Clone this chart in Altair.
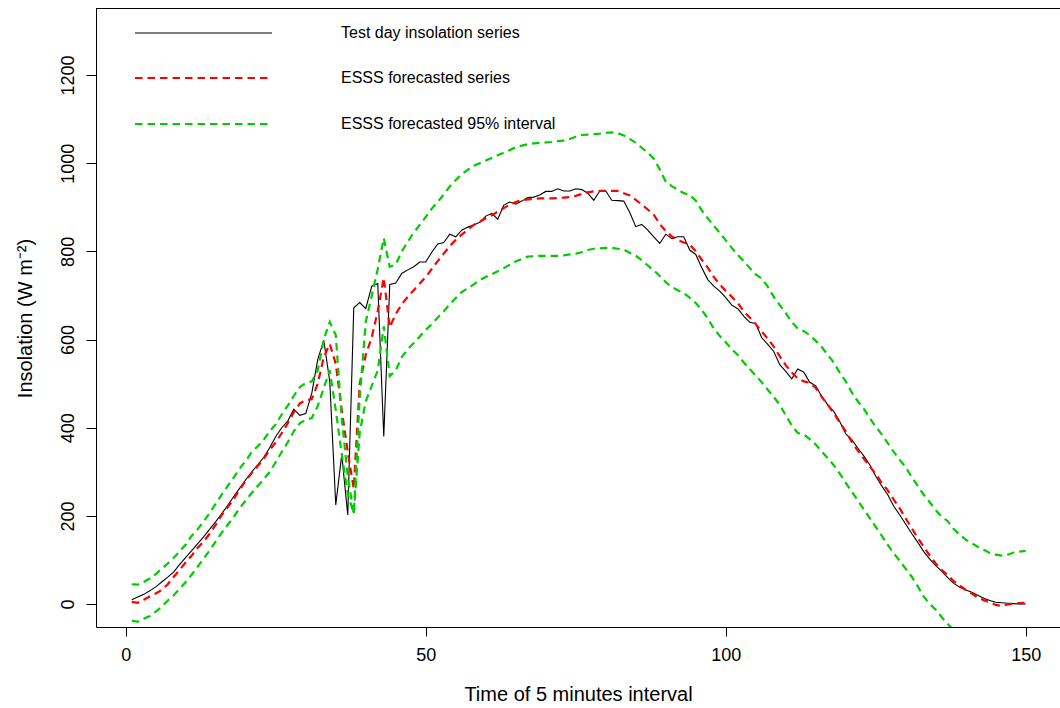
import altair as alt
import pandas as pd

# Time index (5-minute intervals through the test day)
t = list(range(1, 151))

# Observed insolation on the test day (W m^-2)
observed = [
    10, 16, 22, 30, 39, 50, 61, 73, 90, 106,
    121, 137, 153, 170, 187, 205, 224, 244, 263, 282,
    300, 316, 333, 355, 380, 400, 415, 442, 428, 432,
    478, 555, 598, 505, 225, 339, 202, 672, 684, 670,
    721, 727, 380, 725, 728, 750, 758, 765, 776, 776,
    798, 817, 820, 839, 833, 848, 855, 860, 866, 880,
    886, 873, 905, 912, 907, 914, 922, 923, 928, 936,
    936, 942, 937, 937, 942, 940, 932, 916, 937, 937,
    916, 915, 914, 888, 856, 861, 848, 833, 818, 839,
    829, 833, 833, 803, 793, 763, 736, 721, 710, 695,
    678, 670, 653, 639, 636, 604, 589, 573, 543, 528,
    511, 533, 526, 503, 495, 471, 452, 437, 414, 386,
    373, 354, 336, 316, 290, 268, 248, 222, 202, 181,
    160, 140, 119, 102, 87, 74, 60, 47, 38, 32,
    27, 20, 13, 8, 4, 3, 2, 1, 0, 0,
]

# ESSS point forecast
forecast = [
    5, 3, 10, 17, 24, 32, 45, 62, 78, 95,
    110, 128, 142, 160, 180, 202, 220, 238, 260, 280,
    297, 313, 330, 350, 367, 388, 410, 435, 455, 462,
    465, 500, 560, 590, 545, 440, 345, 262, 500, 565,
    605, 665, 740, 628, 658, 680, 697, 712, 727, 742,
    760, 778, 795, 812, 826, 838, 849, 860, 867, 875,
    882, 890, 898, 906, 912, 916, 918, 919, 920, 920,
    920, 921, 922, 923, 926, 930, 934, 936, 937, 937,
    937, 937, 932, 927, 917, 906, 895, 883, 862, 846,
    834, 826, 820, 815, 800, 781, 763, 742, 725, 710,
    697, 683, 664, 650, 635, 618, 602, 584, 562, 542,
    525, 512, 505, 502, 490, 470, 452, 433, 412, 392,
    368, 348, 330, 312, 295, 275, 258, 237, 217, 194,
    172, 150, 130, 110, 92, 77, 66, 52, 42, 32,
    24, 15, 9, 4, -2, -4, -1, 1, 2, 3,
]

# Upper bound of the ESSS 95% forecast interval
upper95 = [
    45, 44, 50, 58, 68, 80, 92, 105, 120, 135,
    155, 170, 188, 207, 228, 248, 268, 287, 308, 325,
    345, 358, 373, 392, 408, 430, 450, 472, 492, 502,
    505, 530, 600, 640, 610, 420, 290, 205, 470, 640,
    700, 760, 830, 765, 770, 800, 822, 843, 860, 878,
    897, 912, 929, 947, 962, 975, 985, 994, 1000, 1006,
    1012, 1018, 1024, 1030, 1036, 1040, 1043, 1045, 1046, 1047,
    1048, 1050, 1051, 1055, 1060, 1064, 1065, 1066, 1067, 1069,
    1070, 1068, 1063, 1055, 1046, 1035, 1024, 1010, 986, 958,
    948, 940, 932, 928, 915, 893, 875, 858, 842, 825,
    808, 792, 778, 762, 748, 738, 720, 697, 678, 660,
    640, 625, 619, 610, 597, 583, 565, 548, 525, 505,
    480, 460, 443, 422, 402, 385, 365, 345, 327, 310,
    288, 268, 248, 231, 213, 198, 188, 170, 157, 146,
    138, 130, 123, 116, 112, 110, 112, 117, 119, 121,
]

# Lower bound of the ESSS 95% forecast interval (runs below the plotted range at the end)
lower95 = [
    -38, -40, -33, -27, -17, -6, 8, 20, 35, 50,
    67, 85, 104, 122, 142, 162, 180, 198, 218, 235,
    252, 268, 283, 300, 322, 345, 367, 392, 410, 418,
    422, 449, 490, 530, 440, 340, 250, 205, 390, 460,
    495, 530, 630, 517, 530, 560, 578, 592, 607, 622,
    635, 650, 664, 680, 694, 708, 716, 725, 735, 742,
    748, 755, 762, 770, 777, 783, 788, 789, 790, 790,
    790, 790, 791, 793, 795, 798, 803, 806, 807, 808,
    808, 806, 804, 797, 790, 780, 768, 757, 744, 730,
    719, 712, 705, 695, 683, 667, 648, 625, 608, 594,
    578, 565, 548, 533, 518, 503, 486, 470, 452, 428,
    405, 388, 385, 374, 362, 346, 331, 315, 296, 275,
    255, 235, 215, 195, 175, 155, 134, 115, 98, 80,
    62, 40, 17, 0, -13, -30, -45, -60, -75, -88,
] + [None] * 10

legend_labels = [
    "Test day insolation series",
    "ESSS forecasted series",
    "ESSS forecasted 95% interval",
]

FONT = "Liberation Sans"
RED = "#FF0000"
GREEN = "#00CD00"
DASH = [7.5, 5]
W, H = 964, 619

df = pd.DataFrame({
    "t": t,
    "observed": observed,
    "forecast": forecast,
    "upper": upper95,
    "lower": lower95,
})

x_scale = alt.Scale(domain=[-4.96, -4.96 + W / 6], nice=False, zero=False)
y_scale = alt.Scale(domain=[-52, 1352], nice=False, zero=False)

x_axis = alt.Axis(
    values=[0, 50, 100, 150],
    format="d",
    title="Time of 5 minutes interval",
    grid=False,
    domain=True,
    tickSize=9,
    labelFontSize=18,
    labelPadding=10,
    titleFontSize=20,
    titleX=W / 2,
    titleY=73,
    titleAlign="center",
    titleBaseline="alphabetic",
)
y_axis = alt.Axis(
    values=[0, 200, 400, 600, 800, 1000, 1200],
    format="d",
    title="Insolation  (W m\u207b\u00b2)",
    grid=False,
    domain=True,
    tickSize=10,
    labelAngle=270,
    labelAlign="center",
    labelBaseline="alphabetic",
    labelPadding=13,
    labelFontSize=18,
    titleFontSize=20,
    titleAngle=270,
    titleX=-65,
    titleY=310,
    titleAlign="center",
    titleBaseline="alphabetic",
)

base = alt.Chart(df)


def enc(field):
    return dict(
        x=alt.X("t:Q", scale=x_scale, axis=x_axis),
        y=alt.Y(f"{field}:Q", scale=y_scale, axis=y_axis),
    )


obs_line = base.mark_line(color="black", strokeWidth=1.1, clip=True).encode(**enc("observed"))
fc_line = base.mark_line(color=RED, strokeWidth=2.2, strokeDash=DASH, clip=True).encode(**enc("forecast"))
up_line = base.mark_line(color=GREEN, strokeWidth=2.2, strokeDash=DASH, clip=True).encode(**enc("upper"))
lo_line = base.mark_line(color=GREEN, strokeWidth=2.2, strokeDash=DASH, clip=True).encode(**enc("lower"))

# Top edge of the plot frame (left and bottom come from the axis lines)
one = pd.DataFrame({"k": [0]})
frame_top = alt.Chart(one).mark_rule(color="black", strokeWidth=1).encode(
    x=alt.value(0), x2=alt.value(W), y=alt.value(0.5)
)

# Legend inside the plot, top-left
legend_rows = [25, 70, 116]
legend_styles = [
    dict(color="black", strokeWidth=1.1),
    dict(color=RED, strokeWidth=2.2, strokeDash=DASH),
    dict(color=GREEN, strokeWidth=2.2, strokeDash=DASH),
]
legend_layers = []
for label, yy, style in zip(legend_labels, legend_rows, legend_styles):
    legend_layers.append(
        alt.Chart(one).mark_rule(**style).encode(
            x=alt.value(39), x2=alt.value(176), y=alt.value(yy)
        )
    )
    legend_layers.append(
        alt.Chart(pd.DataFrame({"label": [label]}))
        .mark_text(font=FONT, fontSize=16, align="left", baseline="middle", color="black")
        .encode(x=alt.value(245), y=alt.value(yy), text="label:N")
    )

chart = (
    alt.layer(obs_line, fc_line, up_line, lo_line, frame_top, *legend_layers)
    .properties(
        width=W,
        height=H,
        autosize=alt.AutoSizeParams(type="none"),
        padding={"left": 96, "top": 8, "right": 0, "bottom": 81},
        background="white",
    )
    .configure_view(stroke=None)
    .configure_axis(
        labelFont=FONT,
        titleFont=FONT,
        labelColor="black",
        titleColor="black",
        tickColor="black",
        domainColor="black",
        domainWidth=1,
        tickWidth=1,
        titleFontWeight="normal",
    )
)

chart.save("out.html", embed_options={"renderer": "svg", "actions": False})
